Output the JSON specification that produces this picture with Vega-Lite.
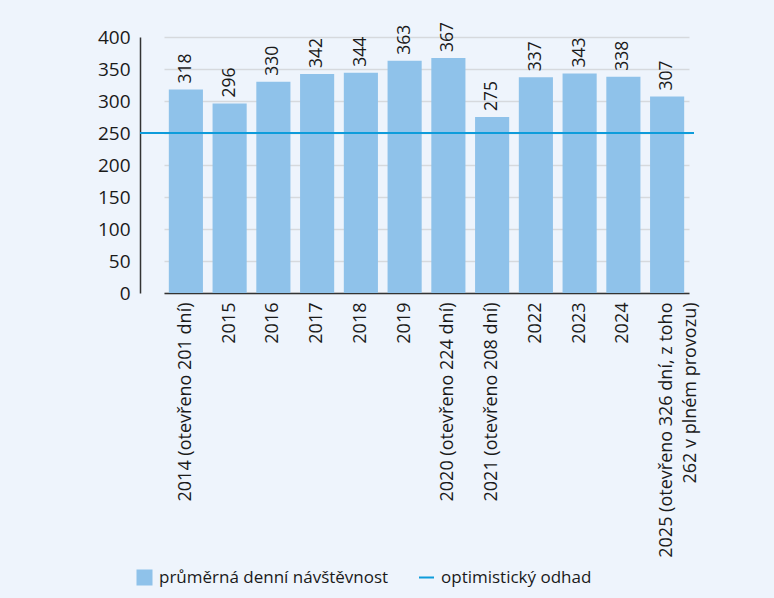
{
  "$schema": "https://vega.github.io/schema/vega-lite/v6.json",
  "width": 554,
  "height": 256,
  "autosize": "none",
  "padding": {"left": 140, "top": 37, "right": 80, "bottom": 305},
  "background": "#eef4fc",
  "config": {
    "view": {"stroke": null},
    "font": "Open Sans",
    "axis": {"labelFont": "Open Sans", "labelColor": "#1a1a1a", "titleFont": "Open Sans"},
    "axisY": {
      "values": [0, 50, 100, 150, 200, 250, 300, 350, 400],
      "labelOverlap": false,
      "labelFontSize": 19,
      "labelPadding": 10,
      "ticks": false,
      "domainColor": "#333333",
      "domainWidth": 1.5,
      "gridColor": "#d6d9dd",
      "gridWidth": 1.5
    },
    "legend": {"labelFont": "Open Sans", "labelColor": "#1a1a1a", "padding": 0}
  },
  "layer": [
    {
      "data": {
        "values": [
          {"rok": "2014 (otevřeno 201 dní)", "návštěvnost": 318, "série": "průměrná denní návštěvnost"},
          {"rok": "2015", "návštěvnost": 296, "série": "průměrná denní návštěvnost"},
          {"rok": "2016", "návštěvnost": 330, "série": "průměrná denní návštěvnost"},
          {"rok": "2017", "návštěvnost": 342, "série": "průměrná denní návštěvnost"},
          {"rok": "2018", "návštěvnost": 344, "série": "průměrná denní návštěvnost"},
          {"rok": "2019", "návštěvnost": 363, "série": "průměrná denní návštěvnost"},
          {"rok": "2020 (otevřeno 224 dní)", "návštěvnost": 367, "série": "průměrná denní návštěvnost"},
          {"rok": "2021 (otevřeno 208 dní)", "návštěvnost": 275, "série": "průměrná denní návštěvnost"},
          {"rok": "2022", "návštěvnost": 337, "série": "průměrná denní návštěvnost"},
          {"rok": "2023", "návštěvnost": 343, "série": "průměrná denní návštěvnost"},
          {"rok": "2024", "návštěvnost": 338, "série": "průměrná denní návštěvnost"},
          {"rok": "2025 (otevřeno 326 dní, z toho 262 v plném provozu)", "návštěvnost": 307, "série": "průměrná denní návštěvnost"}
        ]
      },
      "encoding": {
        "x": {
          "field": "rok",
          "type": "nominal",
          "sort": null,
          "scale": {"range": [24, 549], "paddingInner": 0.22, "paddingOuter": 0.11},
          "axis": {
            "title": null,
            "labelAngle": 270,
            "labelAlign": "right",
            "labelBaseline": "middle",
            "labelFontSize": 18,
            "labelPadding": 9,
            "labelLimit": 400,
            "labelOverlap": false,
            "labelLineHeight": 24,
            "ticks": false,
            "domainColor": "#333333",
            "domainWidth": 1.5,
            "labelExpr": "datum.label == '2025 (otevřeno 326 dní, z toho 262 v plném provozu)' ? ['2025 (otevřeno 326 dní, z toho', '262 v plném provozu)'] : datum.label"
          }
        },
        "y": {
          "field": "návštěvnost",
          "type": "quantitative",
          "scale": {"domain": [0, 400]},
          "axis": {"title": null}
        }
      },
      "layer": [
        {
          "mark": {"type": "bar"},
          "encoding": {
            "fill": {
              "field": "série",
              "type": "nominal",
              "scale": {"range": ["#8fc2ea"]},
              "legend": {
                "title": null,
                "orient": "none",
                "legendX": -4,
                "legendY": 532,
                "symbolType": "square",
                "symbolSize": 256,
                "symbolStrokeWidth": 0,
                "labelFontSize": 17,
                "labelLimit": 400,
                "labelOffset": 6
              }
            }
          }
        },
        {
          "mark": {"type": "text", "angle": 270, "align": "left", "baseline": "middle", "dx": 6, "fontSize": 17.5, "color": "#1a1a1a"},
          "encoding": {
            "text": {"field": "návštěvnost", "type": "quantitative"}
          }
        }
      ]
    },
    {
      "data": {"values": [{"odhad": 250, "série": "optimistický odhad"}]},
      "mark": {"type": "rule", "strokeWidth": 2},
      "encoding": {
        "y": {"field": "odhad", "type": "quantitative", "axis": {"title": null}},
        "stroke": {
          "field": "série",
          "type": "nominal",
          "scale": {"range": ["#0e9cdb"]},
          "legend": {
            "title": null,
            "orient": "none",
            "legendX": 278,
            "legendY": 532,
            "symbolType": "stroke",
            "symbolSize": 225,
            "symbolStrokeWidth": 2,
            "labelFontSize": 17,
            "labelLimit": 400,
            "labelOffset": 6
          }
        }
      }
    }
  ]
}
